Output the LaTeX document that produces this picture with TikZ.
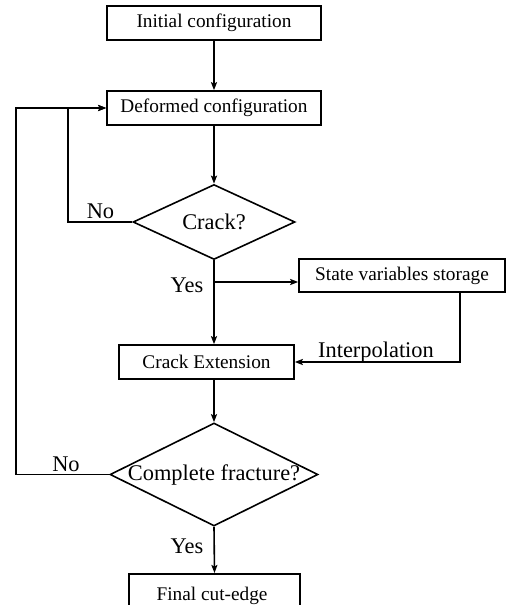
\documentclass[tikz,border=0pt]{standalone}
\usepackage{fontspec}
\setmainfont{Liberation Serif}
\usetikzlibrary{shapes.geometric,arrows.meta}
\begin{document}
\begin{tikzpicture}[x=1pt,y=-1pt,
  line width=1.6pt,
  boxfont/.style={font=\fontsize{19.3}{22}\selectfont},
  lblfont/.style={font=\fontsize{22.4}{26}\selectfont},
  procbox/.style={draw, rectangle, inner sep=0pt, boxfont},
  decision/.style={draw, diamond, inner sep=0pt},
  lbl/.style={lblfont, anchor=base, inner sep=0pt},
  arr/.style={-{Stealth[length=8pt,width=6pt,inset=1.5pt]}}]
\useasboundingbox (0,0) rectangle (507,605);
\node[procbox, minimum width=214pt, minimum height=34pt] (init) at (214,23) {Initial configuration};
\node[procbox, minimum width=214pt, minimum height=34pt] (def) at (214,108) {Deformed configuration};
\node[decision, minimum width=162pt, minimum height=75pt] (d1) at (214,222) {};
\node[lblfont] at (d1) {Crack?};
\node[procbox, minimum width=206pt, minimum height=33pt] (sv) at (402,275.5) {State variables storage};
\node[procbox, minimum width=175pt, minimum height=34pt] (ce) at (206.5,362) {Crack Extension};
\node[decision, minimum width=208pt, minimum height=103pt] (d2) at (214,474.5) {};
\node[lblfont] at (d2) {Complete fracture?};
\node[procbox, minimum width=171pt, minimum height=56pt, anchor=north] (fin) at (214.5,573) {};
\node[boxfont, anchor=base] (fintxt) at (212,600) {Final cut-edge};

\coordinate (br) at (214,282);
\coordinate (inl) at (68,222);
\coordinate (outl) at (16,474.5);
\coordinate (svd) at (460,362);

\draw[arr] (init) -- (def);
\draw[arr] (def) -- (d1);
\draw[arr] (d1.south) -- (d1.south |- ce.north);
\draw[arr] (br) -- (sv.west |- br);
\draw[arr] (svd |- sv.south) -- (svd) -- (ce.east);
\draw[arr] (d2.north |- ce.south) -- (d2.north);
\draw[arr] (d2.south) -- (fin.north);
\draw[arr] (d1.west) -- (inl) |- (def.west);
\draw[arr] (d2.west) -- (outl) |- (def.west);

\node[lbl] (no1) at (100.5,218) {No};
\node[lbl] (yes1) at (187,292) {Yes};
\node[lbl] (interp) at (376,357) {Interpolation};
\node[lbl] (no2) at (66,471) {No};
\node[lbl] (yes2) at (187,553) {Yes};
\end{tikzpicture}
\end{document}
